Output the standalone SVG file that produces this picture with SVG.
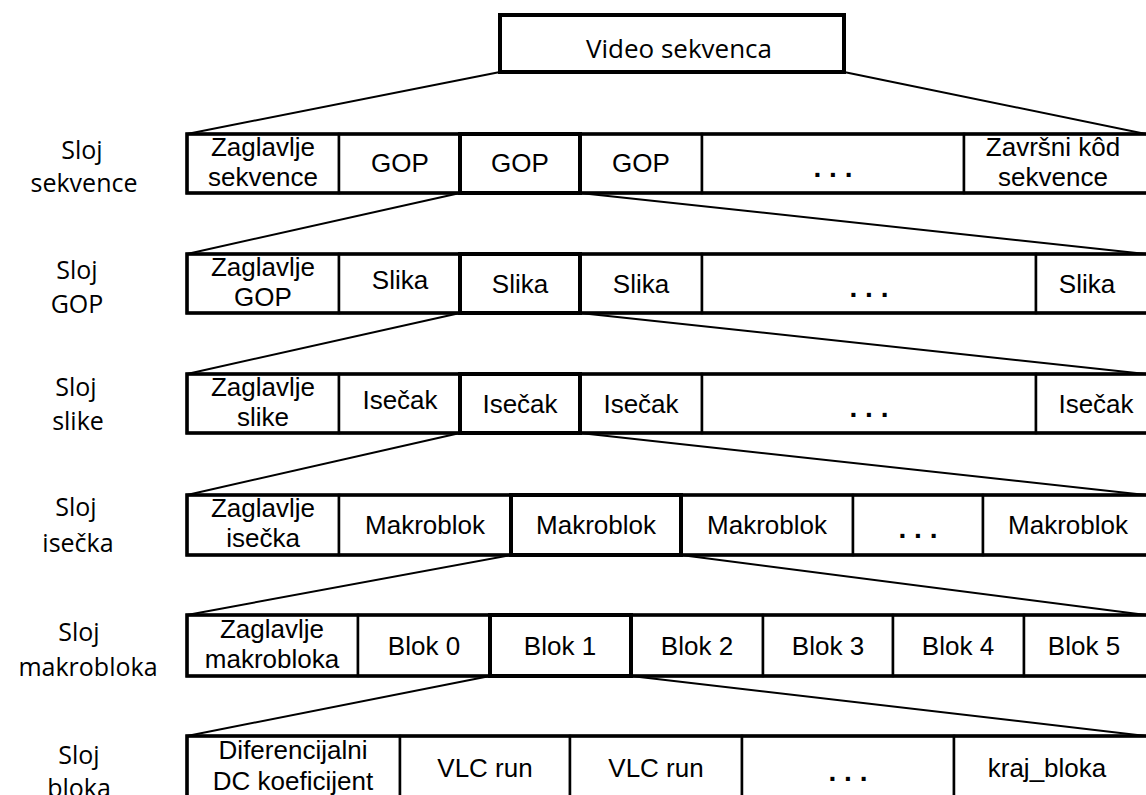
<svg xmlns="http://www.w3.org/2000/svg" width="1146" height="795" viewBox="0 0 1146 795">
<style>
.bg{fill:#fff}
.cell{fill:#fff;stroke:#000;stroke-width:2.5}
.sel{fill:none;stroke:#000;stroke-width:4}
.row{fill:none;stroke:#000;stroke-width:3.5}
.top{fill:#fff;stroke:#000;stroke-width:4}
.t{font-family:"Liberation Sans",Arial,sans-serif;font-size:26px;fill:#000;text-anchor:middle}
.d{font-family:"Liberation Sans",Arial,sans-serif;font-size:28px;font-weight:bold;fill:#000;text-anchor:middle}
.l{font-family:"Open Sans","Noto Sans",sans-serif;font-size:25px;fill:#000;text-anchor:middle}
.v{font-family:"Open Sans","Noto Sans",sans-serif;font-size:26px;fill:#000;text-anchor:middle}
.c{fill:none;stroke:#000;stroke-width:2}
</style>
<rect class="bg" x="0" y="0" width="1146" height="795"/>
<g id="connectors">
<line class="c" x1="500" y1="72" x2="187" y2="134"/>
<line class="c" x1="844" y1="72" x2="1146" y2="134"/>
<line class="c" x1="460" y1="193" x2="187" y2="254"/>
<line class="c" x1="580" y1="193" x2="1146" y2="254"/>
<line class="c" x1="460" y1="313" x2="187" y2="374"/>
<line class="c" x1="580" y1="313" x2="1146" y2="374"/>
<line class="c" x1="460" y1="433" x2="187" y2="495"/>
<line class="c" x1="580" y1="433" x2="1146" y2="495"/>
<line class="c" x1="511" y1="555" x2="187" y2="615"/>
<line class="c" x1="681" y1="555" x2="1146" y2="615"/>
<line class="c" x1="490" y1="676" x2="187" y2="736"/>
<line class="c" x1="631" y1="676" x2="1146" y2="736"/>
</g>
<g id="video-sekvenca">
<rect class="top" x="500" y="15" width="344" height="57"/>
<text class="v" x="679" y="58">Video sekvenca</text>
</g>
<g id="labels">
<text class="l" x="82" y="159">Sloj</text><text class="l" x="84" y="192">sekvence</text>
<text class="l" x="77" y="279">Sloj</text><text class="l" x="77" y="313">GOP</text>
<text class="l" x="76" y="396">Sloj</text><text class="l" x="78" y="430">slike</text>
<text class="l" x="76" y="516">Sloj</text><text class="l" x="78" y="552">isečka</text>
<text class="l" x="79" y="641">Sloj</text><text class="l" x="88" y="676">makrobloka</text>
<text class="l" x="79" y="764">Sloj</text><text class="l" x="79" y="797">bloka</text>
</g>
<g id="row-sekvence">
<g id="r1c1"><rect class="cell" x="187" y="134" width="152" height="59"/><text class="t" x="263" y="156">Zaglavlje</text><text class="t" x="263" y="186">sekvence</text></g>
<g id="r1c2"><rect class="cell" x="339" y="134" width="121" height="59"/><text class="t" x="400" y="172">GOP</text></g>
<g id="r1c4"><rect class="cell" x="580" y="134" width="122" height="59"/><text class="t" x="641" y="172">GOP</text></g>
<g id="r1c5"><rect class="cell" x="702" y="134" width="262" height="59"/><text class="d" x="833" y="177">. . .</text></g>
<g id="r1c6"><rect class="cell" x="964" y="134" width="190" height="59"/><text class="t" x="1053" y="156">Završni kôd</text><text class="t" x="1053" y="186">sekvence</text></g>
<rect class="row" x="187" y="134" width="967" height="59"/>
<g id="r1c3"><rect class="sel" x="460" y="134" width="120" height="59"/><text class="t" x="520" y="172">GOP</text></g>
</g>
<g id="row-gop">
<g id="r2c1"><rect class="cell" x="187" y="254" width="152" height="59"/><text class="t" x="263" y="276">Zaglavlje</text><text class="t" x="263" y="306">GOP</text></g>
<g id="r2c2"><rect class="cell" x="339" y="254" width="121" height="59"/><text class="t" x="400" y="289">Slika</text></g>
<g id="r2c4"><rect class="cell" x="580" y="254" width="122" height="59"/><text class="t" x="641" y="293">Slika</text></g>
<g id="r2c5"><rect class="cell" x="702" y="254" width="334" height="59"/><text class="d" x="869" y="297">. . .</text></g>
<g id="r2c6"><rect class="cell" x="1036" y="254" width="118" height="59"/><text class="t" x="1087" y="293">Slika</text></g>
<rect class="row" x="187" y="254" width="967" height="59"/>
<g id="r2c3"><rect class="sel" x="460" y="254" width="120" height="59"/><text class="t" x="520" y="293">Slika</text></g>
</g>
<g id="row-slike">
<g id="r3c1"><rect class="cell" x="187" y="374" width="152" height="59"/><text class="t" x="263" y="396">Zaglavlje</text><text class="t" x="263" y="426">slike</text></g>
<g id="r3c2"><rect class="cell" x="339" y="374" width="121" height="59"/><text class="t" x="400" y="409">Isečak</text></g>
<g id="r3c4"><rect class="cell" x="580" y="374" width="122" height="59"/><text class="t" x="641" y="413">Isečak</text></g>
<g id="r3c5"><rect class="cell" x="702" y="374" width="334" height="59"/><text class="d" x="869" y="417">. . .</text></g>
<g id="r3c6"><rect class="cell" x="1036" y="374" width="118" height="59"/><text class="t" x="1096" y="413">Isečak</text></g>
<rect class="row" x="187" y="374" width="967" height="59"/>
<g id="r3c3"><rect class="sel" x="460" y="374" width="120" height="59"/><text class="t" x="520" y="413">Isečak</text></g>
</g>
<g id="row-isecka">
<g id="r4c1"><rect class="cell" x="187" y="495" width="152" height="60"/><text class="t" x="263" y="517">Zaglavlje</text><text class="t" x="263" y="547">isečka</text></g>
<g id="r4c2"><rect class="cell" x="339" y="495" width="172" height="60"/><text class="t" x="425" y="534">Makroblok</text></g>
<g id="r4c4"><rect class="cell" x="681" y="495" width="172" height="60"/><text class="t" x="767" y="534">Makroblok</text></g>
<g id="r4c5"><rect class="cell" x="853" y="495" width="130" height="60"/><text class="d" x="918" y="538">. . .</text></g>
<g id="r4c6"><rect class="cell" x="983" y="495" width="171" height="60"/><text class="t" x="1068" y="534">Makroblok</text></g>
<rect class="row" x="187" y="495" width="967" height="60"/>
<g id="r4c3"><rect class="sel" x="511" y="495" width="170" height="60"/><text class="t" x="596" y="534">Makroblok</text></g>
</g>
<g id="row-makrobloka">
<g id="r5c1"><rect class="cell" x="187" y="615" width="171" height="61"/><text class="t" x="272" y="638">Zaglavlje</text><text class="t" x="272" y="668">makrobloka</text></g>
<g id="r5c2"><rect class="cell" x="358" y="615" width="132" height="61"/><text class="t" x="424" y="655">Blok 0</text></g>
<g id="r5c4"><rect class="cell" x="631" y="615" width="132" height="61"/><text class="t" x="697" y="655">Blok 2</text></g>
<g id="r5c5"><rect class="cell" x="763" y="615" width="130" height="61"/><text class="t" x="828" y="655">Blok 3</text></g>
<g id="r5c6"><rect class="cell" x="893" y="615" width="131" height="61"/><text class="t" x="958" y="655">Blok 4</text></g>
<g id="r5c7"><rect class="cell" x="1024" y="615" width="130" height="61"/><text class="t" x="1084" y="655">Blok 5</text></g>
<rect class="row" x="187" y="615" width="967" height="61"/>
<g id="r5c3"><rect class="sel" x="490" y="615" width="141" height="61"/><text class="t" x="560" y="655">Blok 1</text></g>
</g>
<g id="row-bloka">
<g id="r6c1"><rect class="cell" x="187" y="736" width="213" height="62"/><text class="t" x="293" y="759">Diferencijalni</text><text class="t" x="293" y="790">DC koeficijent</text></g>
<g id="r6c2"><rect class="cell" x="400" y="736" width="170" height="62"/><text class="t" x="485" y="777">VLC run</text></g>
<g id="r6c3"><rect class="cell" x="570" y="736" width="172" height="62"/><text class="t" x="656" y="777">VLC run</text></g>
<g id="r6c4"><rect class="cell" x="742" y="736" width="212" height="62"/><text class="d" x="848" y="781">. . .</text></g>
<g id="r6c5"><rect class="cell" x="954" y="736" width="200" height="62"/><text class="t" x="1047" y="777">kraj_bloka</text></g>
<rect class="row" x="187" y="736" width="967" height="62"/>
</g>
</svg>
